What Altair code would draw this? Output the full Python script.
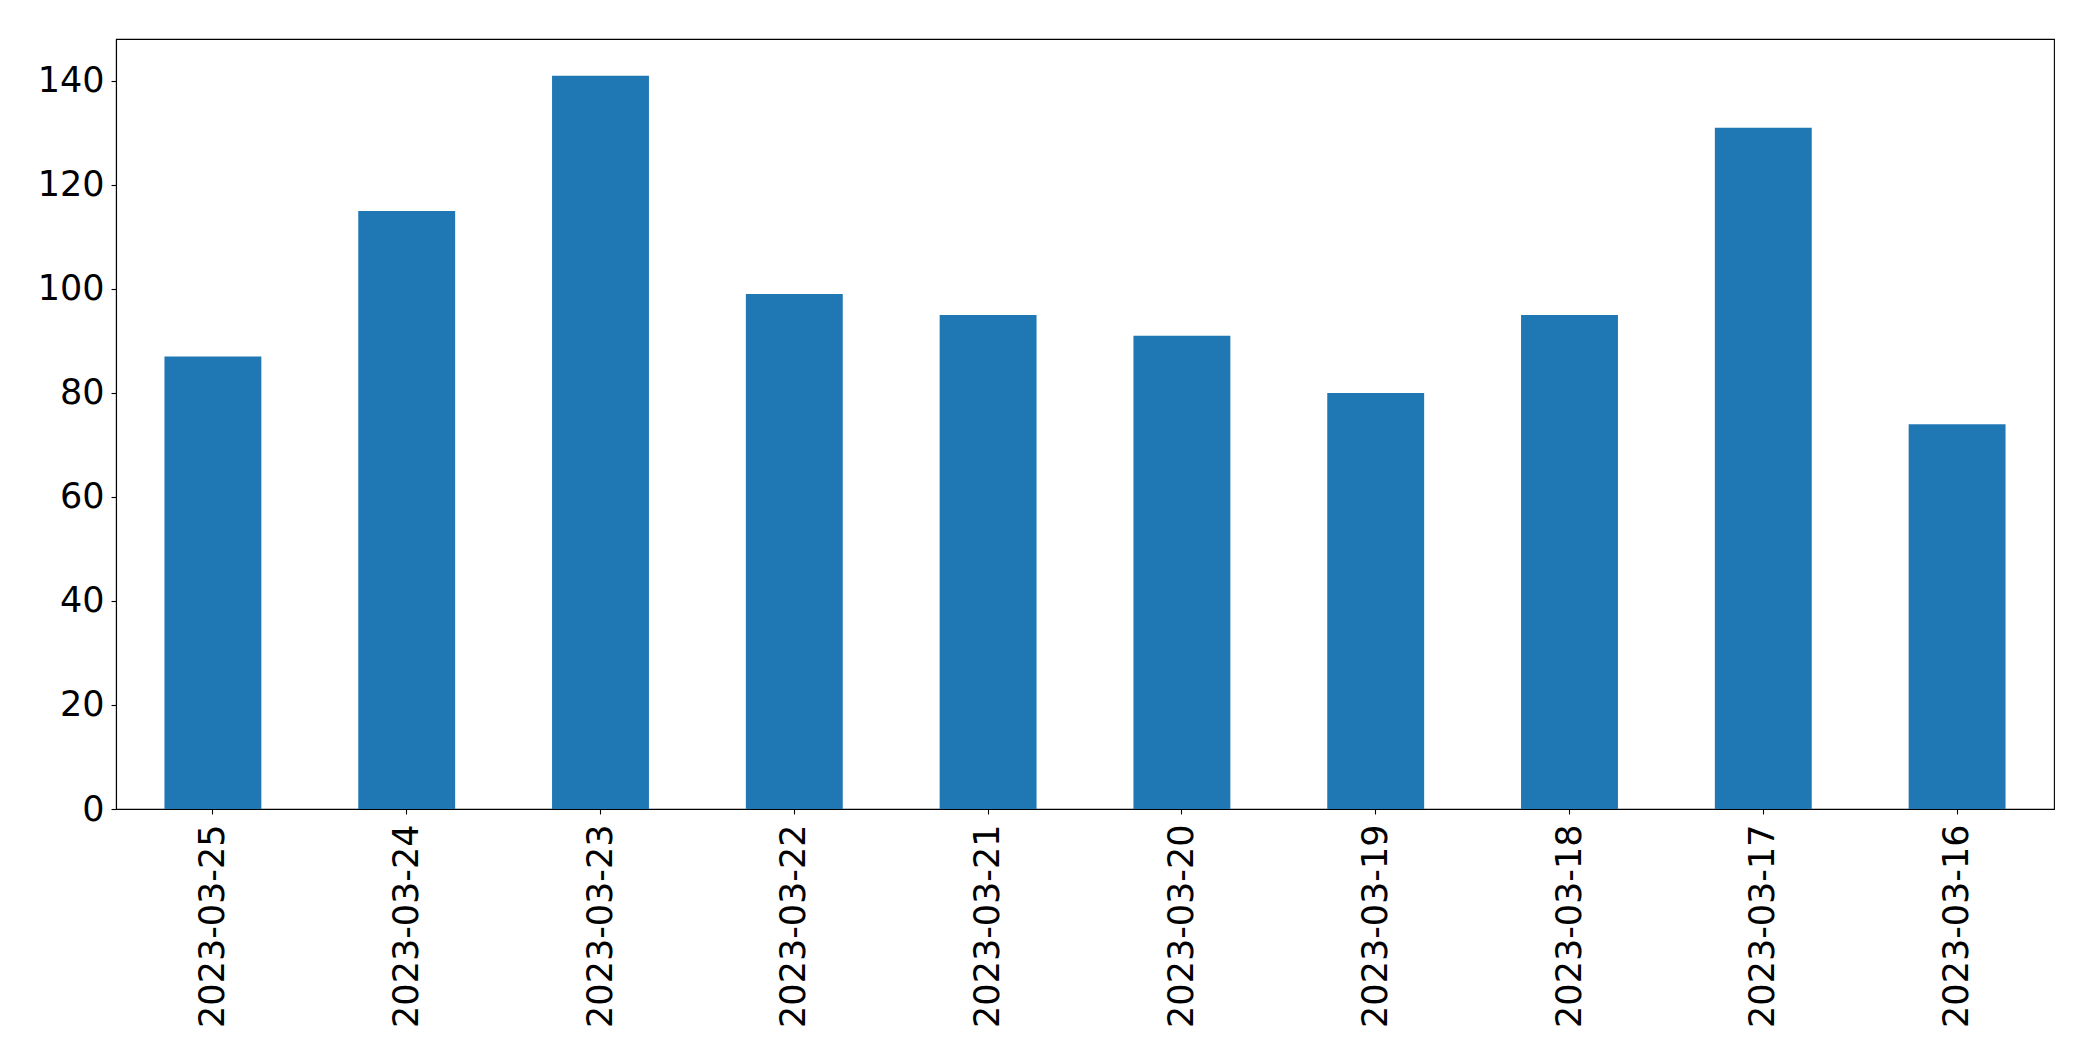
import altair as alt
import pandas as pd

dates = ["2023-03-25", "2023-03-24", "2023-03-23", "2023-03-22", "2023-03-21",
         "2023-03-20", "2023-03-19", "2023-03-18", "2023-03-17", "2023-03-16"]
counts = [87, 115, 141, 99, 95, 91, 80, 95, 131, 74]
y_ticks = [0, 20, 40, 60, 80, 100, 120, 140]

df = pd.DataFrame({"date": dates, "count": counts})

FONT = "DejaVu Sans"
FS = 35

chart = alt.Chart(df).mark_bar(color="#1f77b4").encode(
    x=alt.X("date:N", sort=dates,
            scale=alt.Scale(paddingInner=0.5, paddingOuter=0.25),
            axis=alt.Axis(title=None, labelAngle=270, labelAlign="right",
                          labelBaseline="middle", labelFont=FONT, labelFontSize=FS,
                          labelColor="black", tickColor="black", tickSize=5,
                          tickWidth=1.1, domainColor="black", domainWidth=1.1,
                          labelPadding=10, labelLimit=0, grid=False)),
    y=alt.Y("count:Q", scale=alt.Scale(domain=[0, 148.05], nice=False, zero=True),
            axis=alt.Axis(title=None, values=y_ticks, labelFont=FONT, labelFontSize=FS,
                          labelColor="black", tickColor="black", tickSize=5,
                          tickWidth=1.1, domainColor="black", domainWidth=1.1,
                          labelPadding=7, grid=False, labelBaseline="middle")),
).properties(
    width=1938, height=770,
    background="white",
    autosize=alt.AutoSizeParams(type="none"),
    padding={"left": 108, "top": 31, "right": 30, "bottom": 240},
).configure_view(stroke="black", strokeWidth=1.1)

chart.save("out.html", embed_options={"renderer": "svg", "actions": False})
